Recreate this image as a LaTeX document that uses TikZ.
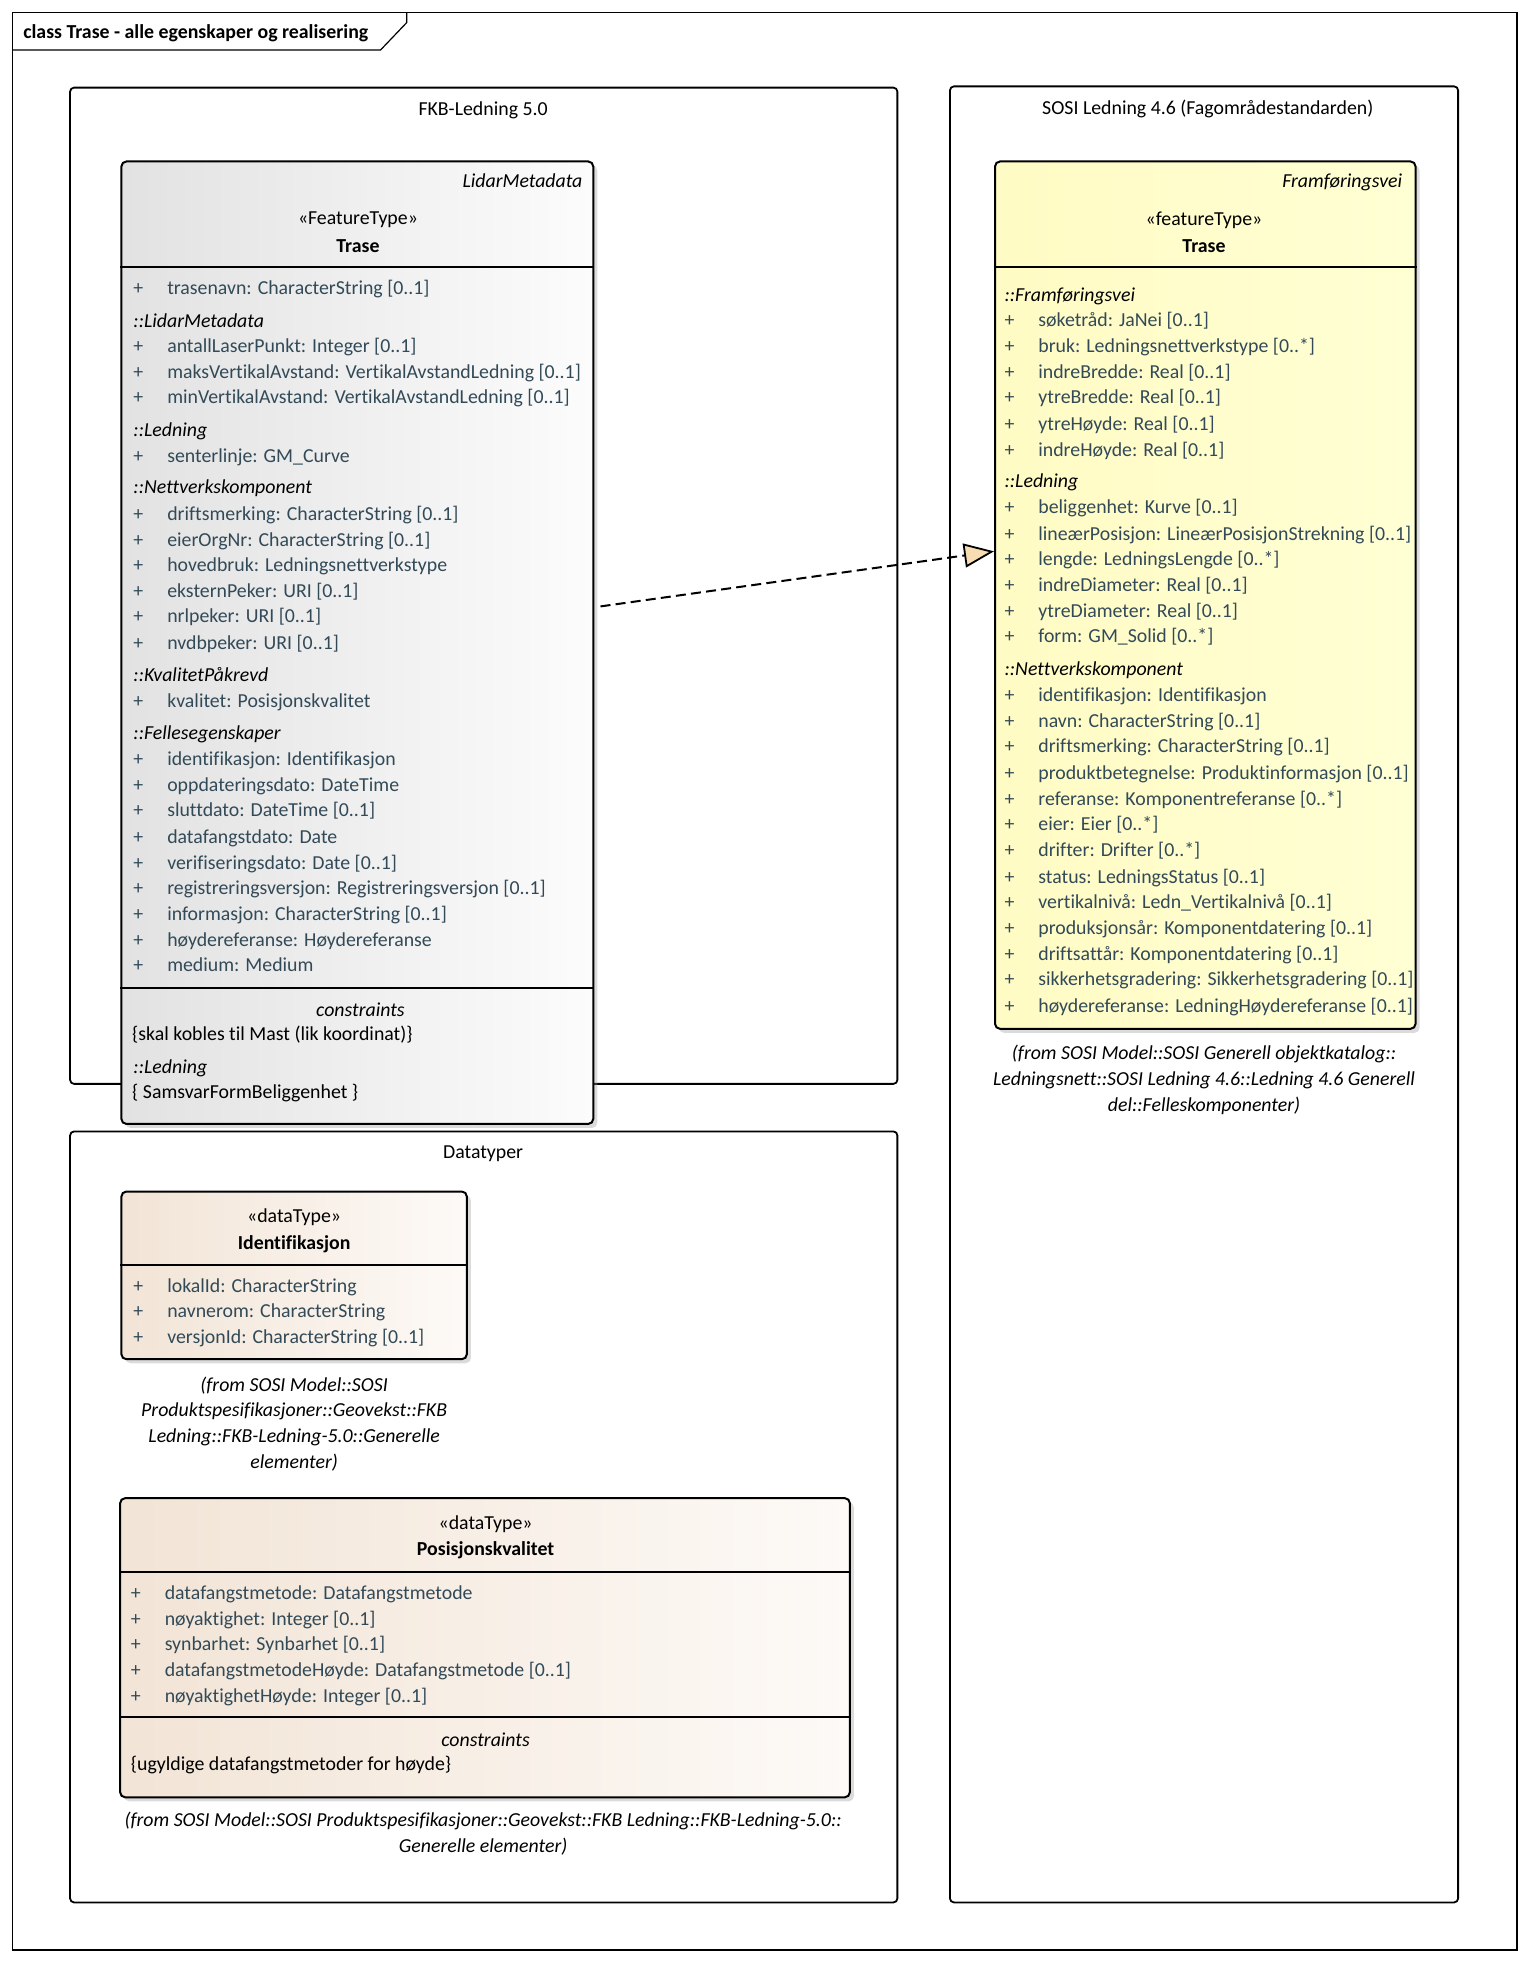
\documentclass[tikz,border=0pt]{standalone}
\usepackage{fontspec}
\setmainfont{Carlito}[Ligatures={NoCommon}]
\usetikzlibrary{shadows,calc,fit,arrows.meta}

\definecolor{attrtext}{RGB}{50,74,88}
\definecolor{ftgrayL}{RGB}{226,226,226}
\definecolor{ftgrayR}{RGB}{252,252,252}
\definecolor{ftyellowL}{RGB}{255,251,196}
\definecolor{ftyellowR}{RGB}{255,255,212}
\definecolor{dtL}{RGB}{242,228,214}
\definecolor{dtR}{RGB}{253,250,247}
\definecolor{realfill}{RGB}{248,220,178}

\begin{document}
\begin{tikzpicture}[x=0.625pt, y=-0.625pt, line width=0.8pt,
    font=\fontsize{9.9}{11.8}\selectfont,
    pkg/.style={draw, rounded corners=2pt, line width=0.9pt},
    classbox/.style={draw, rounded corners=2.5pt, line width=1pt, inner sep=0pt,
      drop shadow={shadow xshift=2pt, shadow yshift=-2pt, fill=black!40, opacity=0.35}},
    sep/.style={line width=1pt},
    txt/.style={inner sep=0pt, yshift=-1.1pt},
    attr/.style={txt, anchor=mid west, text=attrtext},
    plus/.style={txt, anchor=mid west, text=attrtext},
    sect/.style={txt, anchor=mid west, font=\fontsize{9.9}{11.8}\selectfont\itshape},
    plain/.style={txt, anchor=mid west},
    stereo/.style={txt},
    cname/.style={txt, font=\fontsize{9.9}{11.8}\selectfont\bfseries},
    fromtxt/.style={txt, align=center, font=\fontsize{9.9}{12.9}\selectfont\itshape},
    realize/.style={dashed, dash pattern=on 5pt off 2.6pt, line width=1pt,
      -{Triangle[length=15pt, width=12pt, fill=realfill, line width=0.9pt]}}]

  % === Page and frame ===
  \useasboundingbox (0,0) rectangle (1224,1572.4);
  \draw[line width=0.6pt] (10,10) rectangle (1212,1558);
  \draw[line width=0.6pt] (10,40) -- (304,40) -- (325,18) -- (325,10);
  \node[plain, font=\fontsize{9.9}{11.8}\selectfont\bfseries] (title) at (18,25) {class Trase - alle egenskaper og realisering};

  % === Packages ===
  \draw[pkg] (56,70) rectangle (717,866);
  \node[stereo] (pkgFKB) at (386,86) {FKB-Ledning 5.0};
  \draw[pkg] (759,69) rectangle (1165,1520);
  \node[stereo] (pkgSOSI) at (965,85) {SOSI Ledning 4.6 (Fagområdestandarden)};
  \draw[pkg] (56,904) rectangle (717,1520);
  \node[stereo] (pkgDT) at (386,920) {Datatyper};

  % === Trase (FKB) ===
  \node[classbox, left color=ftgrayL, right color=ftgrayR, fit={(97,129) (474,898)}] (traseFKB) {};
  \draw[sep] (traseFKB.west |- 0,213) -- (traseFKB.east |- 0,213);
  \draw[sep] (traseFKB.west |- 0,789) -- (traseFKB.east |- 0,789);
  \node[txt, anchor=mid east, font=\fontsize{9.9}{11.8}\selectfont\itshape] (fkbParent) at (466,144) {LidarMetadata};
  \node[stereo] (fkbStereo) at (286,174) {«FeatureType»};
  \node[cname] (fkbName) at (286,195) {Trase};
  \foreach \y/\t in {256/::LidarMetadata, 343/::Ledning, 389/::Nettverkskomponent,
      539/::KvalitetPåkrevd, 585/::Fellesegenskaper, 852/::Ledning}
    \node[sect] (fs\y) at (106,\y) {\t};
  \foreach \y/\t in {230/trasenavn: CharacterString [0..1],
      276/antallLaserPunkt: Integer [0..1],
      297/maksVertikalAvstand: VertikalAvstandLedning [0..1],
      317/minVertikalAvstand: VertikalAvstandLedning [0..1],
      364/senterlinje: GM\_Curve,
      410/driftsmerking: CharacterString [0..1],
      431/eierOrgNr: CharacterString [0..1],
      451/hovedbruk: Ledningsnettverkstype,
      472/eksternPeker: URI [0..1],
      492/nrlpeker: URI [0..1],
      513/nvdbpeker: URI [0..1],
      560/kvalitet: Posisjonskvalitet,
      606/identifikasjon: Identifikasjon,
      627/oppdateringsdato: DateTime,
      647/sluttdato: DateTime [0..1],
      668/datafangstdato: Date,
      689/verifiseringsdato: Date [0..1],
      709/registreringsversjon: Registreringsversjon [0..1],
      730/informasjon: CharacterString [0..1],
      751/høydereferanse: Høydereferanse,
      771/medium: Medium}
  {
    \node[plus] (fp\y) at (106,\y) {+};
    \node[attr] (fa\y) at (133,\y) {\t};
  }
  \node[stereo, font=\fontsize{9.9}{11.8}\selectfont\itshape] (fkbCons) at (288,805) {constraints};
  \node[plain] (fkbC1) at (105,826) {\{skal kobles til Mast (lik koordinat)\}};
  \node[plain] (fkbC2) at (105,872) {\{ SamsvarFormBeliggenhet \}};

  % === Trase (SOSI) ===
  \node[classbox, left color=ftyellowL, right color=ftyellowR, fit={(795,129) (1131,822)}] (traseSOSI) {};
  \draw[sep] (traseSOSI.west |- 0,213) -- (traseSOSI.east |- 0,213);
  \node[txt, anchor=mid east, font=\fontsize{9.9}{11.8}\selectfont\itshape] (sosiParent) at (1121,144) {Framføringsvei};
  \node[stereo] (sosiStereo) at (962,174) {«featureType»};
  \node[cname] (sosiName) at (962,195) {Trase};
  \foreach \y/\t in {235/::Framføringsvei, 384/::Ledning, 534/::Nettverkskomponent}
    \node[sect] (ss\y) at (802,\y) {\t};
  \foreach \y/\t in {255/søketråd: JaNei [0..1],
      276/bruk: Ledningsnettverkstype [0..*],
      297/indreBredde: Real [0..1],
      317/ytreBredde: Real [0..1],
      338/ytreHøyde: Real [0..1],
      359/indreHøyde: Real [0..1],
      405/beliggenhet: Kurve [0..1],
      426/lineærPosisjon: LineærPosisjonStrekning [0..1],
      446/lengde: LedningsLengde [0..*],
      467/indreDiameter: Real [0..1],
      488/ytreDiameter: Real [0..1],
      508/form: GM\_Solid [0..*],
      555/identifikasjon: Identifikasjon,
      576/navn: CharacterString [0..1],
      596/driftsmerking: CharacterString [0..1],
      617/produktbetegnelse: Produktinformasjon [0..1],
      638/referanse: Komponentreferanse [0..*],
      658/eier: Eier [0..*],
      679/drifter: Drifter [0..*],
      700/status: LedningsStatus [0..1],
      720/vertikalnivå: Ledn\_Vertikalnivå [0..1],
      741/produksjonsår: Komponentdatering [0..1],
      762/driftsattår: Komponentdatering [0..1],
      782/sikkerhetsgradering: Sikkerhetsgradering [0..1],
      803/høydereferanse: LedningHøydereferanse [0..1]}
  {
    \node[plus] (sp\y) at (802,\y) {+};
    \node[attr] (sa\y) at (829,\y) {\t};
  }
  \node[fromtxt] (sosiFrom) at (962,861) {(from SOSI Model::SOSI Generell objektkatalog::\\Ledningsnett::SOSI Ledning 4.6::Ledning 4.6 Generell\\del::Felleskomponenter)};

  % === Realization ===
  \draw[realize] ($(traseFKB.east)+(5,-29)$) -- ($(traseSOSI.west)+(0,-35)$);

  % === Identifikasjon ===
  \node[classbox, left color=dtL, right color=dtR, fit={(97,952) (373,1086)}] (ident) {};
  \draw[sep] (ident.west |- 0,1011) -- (ident.east |- 0,1011);
  \node[stereo] (identStereo) at (235,971) {«dataType»};
  \node[cname] (identName) at (235,992) {Identifikasjon};
  \foreach \y/\t in {1027/lokalId: CharacterString, 1047/navnerom: CharacterString,
      1068/versjonId: CharacterString [0..1]}
  {
    \node[plus] (ip\y) at (106,\y) {+};
    \node[attr] (ia\y) at (133,\y) {\t};
  }
  \node[fromtxt] (identFrom) at (235,1136) {(from SOSI Model::SOSI\\Produktspesifikasjoner::Geovekst::FKB\\Ledning::FKB-Ledning-5.0::Generelle\\elementer)};

  % === Posisjonskvalitet ===
  \node[classbox, left color=dtL, right color=dtR, fit={(96,1197) (679,1436)}] (poskval) {};
  \draw[sep] (poskval.west |- 0,1256) -- (poskval.east |- 0,1256);
  \draw[sep] (poskval.west |- 0,1372) -- (poskval.east |- 0,1372);
  \node[stereo] (posStereo) at (388,1216) {«dataType»};
  \node[cname] (posName) at (388,1237) {Posisjonskvalitet};
  \foreach \y/\t in {1272/datafangstmetode: Datafangstmetode,
      1293/nøyaktighet: Integer [0..1],
      1313/synbarhet: Synbarhet [0..1],
      1334/datafangstmetodeHøyde: Datafangstmetode [0..1],
      1355/nøyaktighetHøyde: Integer [0..1]}
  {
    \node[plus] (pp\y) at (104,\y) {+};
    \node[attr] (pa\y) at (131,\y) {\t};
  }
  \node[stereo, font=\fontsize{9.9}{11.8}\selectfont\itshape] (posCons) at (388,1388) {constraints};
  \node[plain] (posC1) at (104,1409) {\{ugyldige datafangstmetoder for høyde\}};
  \node[fromtxt] (posFrom) at (386,1463.5) {(from SOSI Model::SOSI Produktspesifikasjoner::Geovekst::FKB Ledning::FKB-Ledning-5.0::\\Generelle elementer)};

\end{tikzpicture}
\end{document}
